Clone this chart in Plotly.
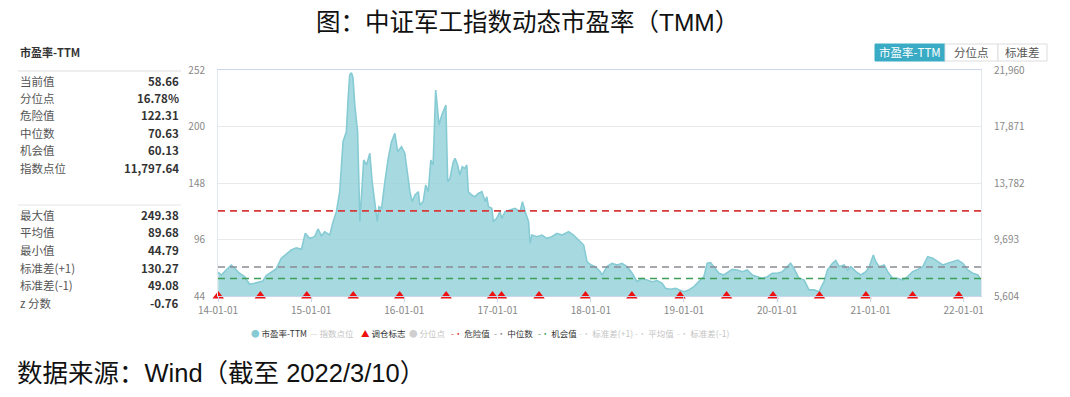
import plotly.graph_objects as go

# ---------------- data ----------------
pe_dates = [
    "2014-01-02", "2014-01-14", "2014-02-02", "2014-02-22", "2014-03-07", "2014-03-26", "2014-04-15",
    "2014-05-05", "2014-05-24", "2014-06-13", "2014-06-26", "2014-07-09", "2014-07-29", "2014-08-17",
    "2014-09-06", "2014-09-26", "2014-10-15", "2014-11-04", "2014-11-24", "2014-12-09", "2014-12-26",
    "2015-01-15", "2015-01-28", "2015-02-10", "2015-02-23", "2015-03-15", "2015-03-28", "2015-04-10",
    "2015-04-23", "2015-05-06", "2015-05-19", "2015-05-26", "2015-06-01", "2015-06-08", "2015-06-14",
    "2015-06-21", "2015-07-02", "2015-07-11", "2015-07-17", "2015-07-26", "2015-08-06", "2015-08-19",
    "2015-08-28", "2015-09-08", "2015-09-17", "2015-09-24", "2015-10-04", "2015-10-17", "2015-10-30",
    "2015-11-12", "2015-11-25", "2015-12-06", "2015-12-21", "2016-01-03", "2016-01-16", "2016-01-23",
    "2016-02-01", "2016-02-12", "2016-02-25", "2016-03-02", "2016-03-15", "2016-03-25", "2016-04-04",
    "2016-04-14", "2016-04-23", "2016-05-03", "2016-05-09", "2016-05-16", "2016-05-27", "2016-06-06",
    "2016-06-12", "2016-06-19", "2016-06-28", "2016-07-11", "2016-07-18", "2016-07-28", "2016-08-06",
    "2016-08-15", "2016-08-26", "2016-09-02", "2016-09-08", "2016-09-21", "2016-10-04", "2016-10-17",
    "2016-10-31", "2016-11-13", "2016-11-19", "2016-11-26", "2016-12-09", "2016-12-15", "2016-12-28",
    "2017-01-10", "2017-01-17", "2017-01-30", "2017-02-19", "2017-03-10", "2017-03-30", "2017-04-08",
    "2017-04-19", "2017-05-02", "2017-05-08", "2017-05-15", "2017-06-04", "2017-06-23", "2017-07-13",
    "2017-08-01", "2017-08-21", "2017-09-10", "2017-10-06", "2017-10-25", "2017-11-14", "2017-12-04",
    "2017-12-17", "2017-12-30", "2018-01-18", "2018-02-07", "2018-02-14", "2018-03-05", "2018-03-25",
    "2018-04-14", "2018-05-03", "2018-05-23", "2018-06-12", "2018-07-01", "2018-07-21", "2018-08-10",
    "2018-08-29", "2018-09-18", "2018-10-08", "2018-10-20", "2018-11-09", "2018-11-29", "2018-12-16",
    "2018-12-31", "2019-01-20", "2019-02-09", "2019-02-28", "2019-03-20", "2019-04-02", "2019-04-15",
    "2019-04-28", "2019-05-18", "2019-06-06", "2019-06-26", "2019-07-09", "2019-07-29", "2019-08-18",
    "2019-09-06", "2019-09-26", "2019-10-15", "2019-11-04", "2019-11-24", "2019-12-13", "2020-01-02",
    "2020-01-22", "2020-02-10", "2020-02-23", "2020-03-07", "2020-03-27", "2020-04-16", "2020-05-05",
    "2020-05-25", "2020-06-13", "2020-07-03", "2020-07-16", "2020-08-05", "2020-08-18", "2020-08-31",
    "2020-09-20", "2020-10-03", "2020-10-16", "2020-11-05", "2020-11-24", "2020-12-14", "2020-12-27",
    "2021-01-12", "2021-01-22", "2021-02-04", "2021-02-24", "2021-03-09", "2021-03-29", "2021-04-17",
    "2021-05-07", "2021-05-27", "2021-06-15", "2021-07-05", "2021-07-25", "2021-08-13", "2021-09-02",
    "2021-09-22", "2021-10-11", "2021-10-31", "2021-11-19", "2021-12-09", "2021-12-29", "2022-01-17",
    "2022-02-06", "2022-02-26", "2022-03-10",
]
pe_values = [
    65.8, 63.3, 67.9, 72.5, 69.5, 64.9, 61.8,
    54.8, 55.7, 56.6, 57.8, 62.7, 65.8, 68.9,
    78.7, 82.4, 86.3, 88.3, 87.1, 101.7, 97.1,
    98.6, 105.7, 99.5, 103.0, 100.1, 112.4, 121.6,
    140.0, 186.0, 195.2, 225.9, 247.4, 249.38, 245.0,
    219.8, 195.2, 112.4, 140.0, 169.2, 164.6, 175.3,
    149.2, 127.8, 112.4, 126.3, 124.7, 149.2, 170.7,
    186.0, 193.7, 176.8, 181.4, 175.3, 152.2, 140.0,
    130.8, 136.9, 140.0, 127.8, 130.8, 146.2, 140.0,
    169.2, 164.6, 233.6, 219.8, 201.4, 210.6, 216.8,
    219.8, 149.2, 152.2, 167.6, 170.7, 164.6, 155.3,
    163.0, 161.5, 164.6, 140.0, 136.9, 135.4, 138.4,
    140.0, 130.8, 135.4, 126.2, 124.7, 112.4, 115.5,
    121.6, 115.5, 121.6, 123.2, 124.7, 121.6, 130.8,
    121.6, 112.4, 92.5, 100.1, 98.6, 100.1, 97.1,
    98.6, 101.7, 100.1, 103.2, 100.1, 95.5, 90.9,
    75.6, 73.0, 71.0, 66.4, 63.3, 71.0, 74.1,
    72.5, 74.1, 71.0, 64.9, 57.2, 60.3, 58.7,
    57.2, 58.2, 55.7, 51.1, 50.2, 51.1, 49.6,
    48.0, 49.6, 52.6, 57.2, 61.8, 74.1, 74.7,
    71.0, 64.9, 63.3, 66.4, 68.5, 67.9, 66.4,
    67.9, 63.3, 61.8, 60.3, 61.8, 64.9, 64.9,
    66.4, 71.0, 74.1, 69.5, 60.3, 58.7, 49.6,
    49.6, 48.0, 57.2, 67.9, 74.1, 76.6, 71.0,
    72.5, 67.9, 71.0, 66.4, 63.3, 66.4, 71.0,
    81.7, 75.6, 71.0, 72.5, 66.4, 60.3, 60.3,
    58.7, 61.8, 66.4, 68.5, 71.0, 80.2, 78.7,
    75.6, 72.5, 74.1, 75.6, 77.1, 74.1, 67.9,
    64.9, 63.3, 58.66,
]
rebalance_dates = [
    "2014-01-02", "2014-06-16", "2014-12-15", "2015-06-15", "2015-12-14", "2016-06-13",
    "2016-12-12", "2017-01-16", "2017-06-12", "2017-12-11", "2018-06-11", "2018-12-17",
    "2019-06-17", "2019-12-16", "2020-06-15", "2020-12-14", "2021-06-15", "2021-12-13",
]
danger_value = 122.31
median_value = 70.63
chance_value = 60.13
current_value = 58.66
percentile_value = 16.78
index_level = 11797.64
max_value = 249.38
mean_value = 89.68
min_value = 44.79
sd_plus = 130.27
sd_minus = 49.08
z_score = -0.76
pe_ticks = [44, 96, 148, 200, 252]
index_ticks = [5604, 9693, 13782, 17871, 21960]
year_ticks = ["2014-01-01", "2015-01-01", "2016-01-01", "2017-01-01", "2018-01-01",
              "2019-01-01", "2020-01-01", "2021-01-01", "2022-01-01"]
top_labels = ["当前值", "分位点", "危险值", "中位数", "机会值", "指数点位"]
top_values = [f"{current_value:.2f}", f"{percentile_value:.2f}%", f"{danger_value:.2f}",
              f"{median_value:.2f}", f"{chance_value:.2f}", f"{index_level:,.2f}"]
bottom_labels = ["最大值", "平均值", "最小值", "标准差(+1)", "标准差(-1)", "z 分数"]
bottom_values = [f"{max_value:.2f}", f"{mean_value:.2f}", f"{min_value:.2f}",
                 f"{sd_plus:.2f}", f"{sd_minus:.2f}", f"{z_score:.2f}"]
legend_names = ["市盈率-TTM", "指数点位", "调仓标志", "分位点", "危险值", "中位数", "机会值",
                "标准差(+1)", "平均值", "标准差(-1)"]

# ---------------- layout helpers (screen pixel coordinates) ----------------
SCREEN_W, SCREEN_H = 1070, 397
OFF = 8                     # page body margin in front of the figure
L, R, T, B = 218, 981, 70, 296   # plot area on screen
FONT = "Noto Sans CJK SC, Liberation Sans, sans-serif"


def px(x):
    return (x - L) / (R - L)


def py(y):
    return (B - y) / (B - T)


fig = go.Figure()

fig.add_trace(go.Scatter(
    x=pe_dates, y=pe_values, mode="lines", fill="tozeroy",
    line=dict(color="#86cbd4", width=1.6),
    fillcolor="rgba(152,211,218,0.85)", showlegend=False, hoverinfo="x+y",
))

fig.add_trace(go.Scatter(
    x=rebalance_dates, y=[pe_ticks[0]] * len(rebalance_dates), mode="markers",
    marker=dict(symbol="triangle-up", size=10, color="#ee1111"),
    cliponaxis=False, showlegend=False,
))

# invisible point so the right-hand index axis is drawn
fig.add_trace(go.Scatter(
    x=[pe_dates[-1]], y=[index_level], yaxis="y2", mode="markers",
    marker=dict(opacity=0), showlegend=False, hoverinfo="skip",
))

ann = []
shapes = []

for val, col in [(danger_value, "#d63a3a"), (median_value, "#8a8a94"), (chance_value, "#3d9e57")]:
    shapes.append(dict(type="line", xref="paper", x0=0, x1=1, yref="y", y0=val, y1=val,
                       line=dict(color=col, width=1.6, dash="7px,5px")))

# title & source
ann.append(dict(text="图：中证军工指数动态市盈率（TMM）", x=px(527), y=py(22.5), xref="paper", yref="paper",
                showarrow=False, xanchor="center", yanchor="middle",
                font=dict(family="Liberation Sans, Noto Sans CJK SC", size=24.5, color="#111")))
ann.append(dict(text="数据来源：Wind（截至 2022/3/10）", x=px(15), y=py(373), xref="paper", yref="paper",
                showarrow=False, xanchor="left", yanchor="middle",
                font=dict(family="Liberation Sans, Noto Sans CJK SC", size=25.5, color="#111")))

# left statistics panel
ann.append(dict(text="<b>市盈率-TTM</b>", x=px(18), y=py(52), xref="paper", yref="paper",
                showarrow=False, xanchor="left", yanchor="middle",
                font=dict(family=FONT, size=11, color="#333")))
shapes.append(dict(type="line", xref="paper", yref="paper", x0=px(18), x1=px(181),
                   y0=py(71), y1=py(71), line=dict(color="#eeeeee", width=2)))
shapes.append(dict(type="line", xref="paper", yref="paper", x0=px(18), x1=px(181),
                   y0=py(205), y1=py(205), line=dict(color="#e6e6e6", width=1)))
for i, (lab, val) in enumerate(zip(top_labels, top_values)):
    yy = 80.5 + 17.45 * i
    ann.append(dict(text=lab, x=px(18), y=py(yy), xref="paper", yref="paper", showarrow=False,
                    xanchor="left", yanchor="middle", font=dict(family=FONT, size=11.5, color="#555")))
    ann.append(dict(text=f"<b>{val}</b>", x=px(181), y=py(yy), xref="paper", yref="paper", showarrow=False,
                    xanchor="right", yanchor="middle", font=dict(family=FONT, size=11.5, color="#333")))
for i, (lab, val) in enumerate(zip(bottom_labels, bottom_values)):
    yy = 214.8 + 17.6 * i
    ann.append(dict(text=lab, x=px(18), y=py(yy), xref="paper", yref="paper", showarrow=False,
                    xanchor="left", yanchor="middle", font=dict(family=FONT, size=11.5, color="#555")))
    ann.append(dict(text=f"<b>{val}</b>", x=px(181), y=py(yy), xref="paper", yref="paper", showarrow=False,
                    xanchor="right", yanchor="middle", font=dict(family=FONT, size=11.5, color="#333")))

# buttons (top right)
buttons = [("市盈率-TTM", 875, 945, True), ("分位点", 945, 998, False), ("标准差", 998, 1047, False)]
for lab, x0, x1, active in buttons:
    shapes.append(dict(type="rect", xref="paper", yref="paper", x0=px(x0), x1=px(x1), y0=py(61), y1=py(44),
                       fillcolor="#3aabc5" if active else "#ffffff",
                       line=dict(color="#3aabc5" if active else "#dddddd", width=1)))
    ann.append(dict(text=lab, x=px((x0 + x1) / 2), y=py(52.5), xref="paper", yref="paper", showarrow=False,
                    xanchor="center", yanchor="middle",
                    font=dict(family=FONT, size=11.5, color="#ffffff" if active else "#555")))

# custom legend
legend_style = [
    ("●", "#86cbd4", True, 249), ("—", "#d4d4d4", False, 308), ("▲", "#ee1111", True, 359),
    ("●", "#cfcfcf", False, 407), ("-·", "#d63a3a", True, 449), ("-·", "#8a8a94", True, 492),
    ("-·", "#3d9e57", True, 536), ("-·", "#d4d4d4", False, 577), ("-·", "#d4d4d4", False, 633),
    ("-·", "#d4d4d4", False, 675),
]
for name, (sym, col, on, x0) in zip(legend_names, legend_style):
    txtcol = "#333" if on else "#c4c4c4"
    ann.append(dict(text=f'<span style="color:{col}">{sym}</span> {name}', x=px(x0), y=py(333),
                    xref="paper", yref="paper", showarrow=False, xanchor="left", yanchor="middle",
                    font=dict(family=FONT, size=8.5, color=txtcol)))

fig.update_layout(
    width=SCREEN_W - OFF, height=SCREEN_H - OFF,
    margin=dict(l=L - OFF, r=SCREEN_W - R, t=T - OFF, b=SCREEN_H - B, pad=0),
    paper_bgcolor="white", plot_bgcolor="white",
    showlegend=False,
    font=dict(family=FONT, size=10, color="#888"),
    xaxis=dict(
        type="date", range=["2014-01-01", "2022-03-10"],
        tickvals=year_ticks, tickformat="%y-%m-%d",
        showgrid=False, showline=True, linecolor="#ccd6eb", linewidth=1, mirror=True,
        ticks="outside", ticklen=5, tickcolor="#ccd6eb",
        tickfont=dict(size=10, color="#888"), zeroline=False,
    ),
    yaxis=dict(
        range=[pe_ticks[0], pe_ticks[-1]], tickvals=pe_ticks,
        showgrid=True, gridcolor="#e9e9e9", gridwidth=1,
        showline=True, linecolor="#e3e8ef", mirror=False,
        ticks="", tickfont=dict(size=10, color="#888"), zeroline=False,
        ticklabelstandoff=10,
    ),
    yaxis2=dict(
        overlaying="y", side="right", range=[index_ticks[0], index_ticks[-1]],
        tickvals=index_ticks, tickformat=",d", showgrid=False,
        showline=True, linecolor="#e3e8ef", ticks="",
        tickfont=dict(size=10, color="#888"), zeroline=False,
        ticklabelstandoff=10,
    ),
    annotations=ann,
    shapes=shapes,
)

fig.write_html("out.html")
